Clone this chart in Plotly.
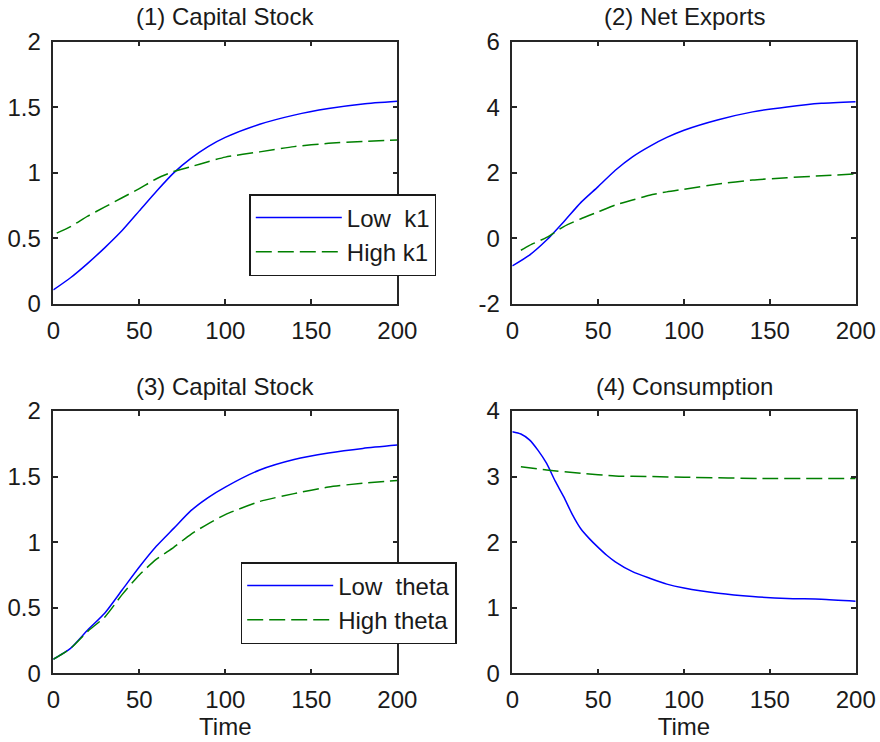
import plotly.graph_objects as go

# ---------------- data ----------------
t_main = [0, 10, 20, 30, 40, 50, 60, 70, 80, 90, 100, 120, 140, 160, 180, 200]
t_high_k1 = [2, 10, 20, 30, 40, 50, 60, 70, 80, 90, 100, 120, 140, 160, 180, 200]
t_high_nx = [5, 10, 20, 30, 40, 50, 60, 70, 80, 90, 100, 120, 140, 160, 180, 200]

k_low_k1 = [0.107, 0.20, 0.31, 0.43, 0.56, 0.71, 0.86, 1.00, 1.11, 1.20, 1.27, 1.37, 1.44, 1.49, 1.525, 1.545]
k_high_k1 = [0.54, 0.59, 0.67, 0.74, 0.81, 0.88, 0.955, 1.01, 1.047, 1.085, 1.12, 1.16, 1.20, 1.225, 1.24, 1.25]

nx_low_k1 = [-0.84, -0.51, -0.05, 0.51, 1.10, 1.58, 2.08, 2.49, 2.81, 3.08, 3.30, 3.62, 3.86, 4.01, 4.12, 4.17]
nx_high_k1 = [-0.36, -0.21, 0.03, 0.36, 0.60, 0.81, 1.02, 1.17, 1.32, 1.42, 1.50, 1.66, 1.78, 1.85, 1.91, 1.97]

k_low_theta = [0.107, 0.19, 0.33, 0.46, 0.635, 0.81, 0.97, 1.105, 1.24, 1.34, 1.42, 1.55, 1.63, 1.68, 1.715, 1.74]
k_high_theta = [0.107, 0.19, 0.32, 0.43, 0.60, 0.75, 0.87, 0.96, 1.06, 1.14, 1.21, 1.31, 1.37, 1.42, 1.45, 1.47]

t_cons = [0, 5, 10, 15, 20, 25, 30, 35, 40, 45, 50, 55, 60, 70, 80, 90, 100, 120, 140, 160, 180, 200]
c_low_theta = [3.685, 3.65, 3.56, 3.40, 3.20, 2.93, 2.69, 2.42, 2.20, 2.05, 1.92, 1.80, 1.70, 1.55, 1.45, 1.36, 1.30, 1.22, 1.17, 1.14, 1.13, 1.10]
t_cons_high = [5, 20, 40, 60, 80, 100, 150, 200]
c_high_theta = [3.15, 3.10, 3.05, 3.01, 3.00, 2.99, 2.97, 2.97]

titles = ["(1) Capital Stock", "(2) Net Exports", "(3) Capital Stock", "(4) Consumption"]
x_ticks = [0, 50, 100, 150, 200]
x_ticktext = ["0", "50", "100", "150", "200"]
y_ticks_k = [0, 0.5, 1, 1.5, 2]
y_ticktext_k = ["0", "0.5", "1", "1.5", "2"]
y_ticks_nx = [-2, 0, 2, 4, 6]
y_ticktext_nx = ["-2", "0", "2", "4", "6"]
y_ticks_c = [0, 1, 2, 3, 4]
y_ticktext_c = ["0", "1", "2", "3", "4"]
legend_k1 = ["Low  k1", "High k1"]
legend_theta = ["Low  theta", "High theta"]

# ---------------- style ----------------
W, H = 880, 742
BLUE = "rgb(0,0,255)"
GREEN = "rgb(0,128,0)"
FONT = "Liberation Sans, Arial, sans-serif"
FS = 24
TXT = "#1a1a1a"
DASH = "16px,6px"

# axes boxes in pixels: (left, right, top, bottom)
boxes = [(53.3, 397.3, 41.7, 304.0), (512.3, 855.7, 41.7, 304.0),
         (53.3, 397.3, 411.0, 673.3), (512.3, 855.7, 411.0, 673.3)]

fig = go.Figure()

def add(x, y, color, dash, name, ax, legend, show):
    fig.add_trace(go.Scatter(
        x=x, y=y, mode="lines", name=name,
        line=dict(color=color, width=1.5, dash=dash, shape="spline", smoothing=0.6),
        xaxis="x" + ("" if ax == 1 else str(ax)),
        yaxis="y" + ("" if ax == 1 else str(ax)),
        legend=legend, showlegend=show,
    ))

add(t_main, k_low_k1, BLUE, "solid", legend_k1[0], 1, "legend", True)
add(t_high_k1, k_high_k1, GREEN, DASH, legend_k1[1], 1, "legend", True)
add(t_main, nx_low_k1, BLUE, "solid", legend_k1[0], 2, "legend", False)
add(t_high_nx, nx_high_k1, GREEN, DASH, legend_k1[1], 2, "legend", False)
add(t_main, k_low_theta, BLUE, "solid", legend_theta[0], 3, "legend2", True)
add(t_main, k_high_theta, GREEN, DASH, legend_theta[1], 3, "legend2", True)
add(t_cons, c_low_theta, BLUE, "solid", legend_theta[0], 4, "legend2", False)
add(t_cons_high, c_high_theta, GREEN, DASH, legend_theta[1], 4, "legend2", False)

yspecs = [(y_ticks_k, y_ticktext_k, [0, 2]), (y_ticks_nx, y_ticktext_nx, [-2, 6]),
          (y_ticks_k, y_ticktext_k, [0, 2]), (y_ticks_c, y_ticktext_c, [0, 4])]

layout = dict(
    width=W, height=H, margin=dict(l=0, r=0, t=0, b=0, autoexpand=False),
    paper_bgcolor="white", plot_bgcolor="white",
    font=dict(family=FONT, size=FS, color=TXT),
    annotations=[],
)

axis_common = dict(
    showline=True, linecolor="#262626", linewidth=1.5, mirror="ticks",
    ticks="inside", ticklen=5, tickwidth=1.5, tickcolor="#262626",
    showgrid=False, zeroline=False, automargin=False,
    tickfont=dict(family=FONT, size=FS, color=TXT),
)

for i, (l, r, t, b) in enumerate(boxes):
    n = "" if i == 0 else str(i + 1)
    yt, ytt, yr = yspecs[i]
    layout["xaxis" + n] = dict(axis_common, domain=[l / W, r / W], range=[0, 200],
                               tickvals=x_ticks, ticktext=x_ticktext,
                               anchor="y" + n, ticklabelstandoff=4)
    layout["yaxis" + n] = dict(axis_common, domain=[1 - b / H, 1 - t / H], range=yr,
                               tickvals=yt, ticktext=ytt,
                               anchor="x" + n, ticklabelstandoff=6)
    layout["annotations"].append(dict(
        text=titles[i], x=(l + r) / 2 / W, y=1 - (t - 25) / H,
        xref="paper", yref="paper", xanchor="center", yanchor="middle",
        showarrow=False, font=dict(family=FONT, size=FS, color=TXT)))

for ax in ("xaxis3", "xaxis4"):
    layout[ax]["title"] = dict(text="Time", standoff=4, font=dict(family=FONT, size=FS, color=TXT))

leg_common = dict(bgcolor="white", bordercolor="#1a1a1a", borderwidth=1.5,
                  xanchor="left", yanchor="top", itemwidth=86,
                  font=dict(family=FONT, size=FS, color=TXT), tracegroupgap=0)
layout["legend"] = dict(leg_common, x=249.3 / W, y=1 - 194 / H)
layout["legend2"] = dict(leg_common, x=240.7 / W, y=1 - 562 / H)

fig.update_layout(**layout)
fig.write_html("out.html")
